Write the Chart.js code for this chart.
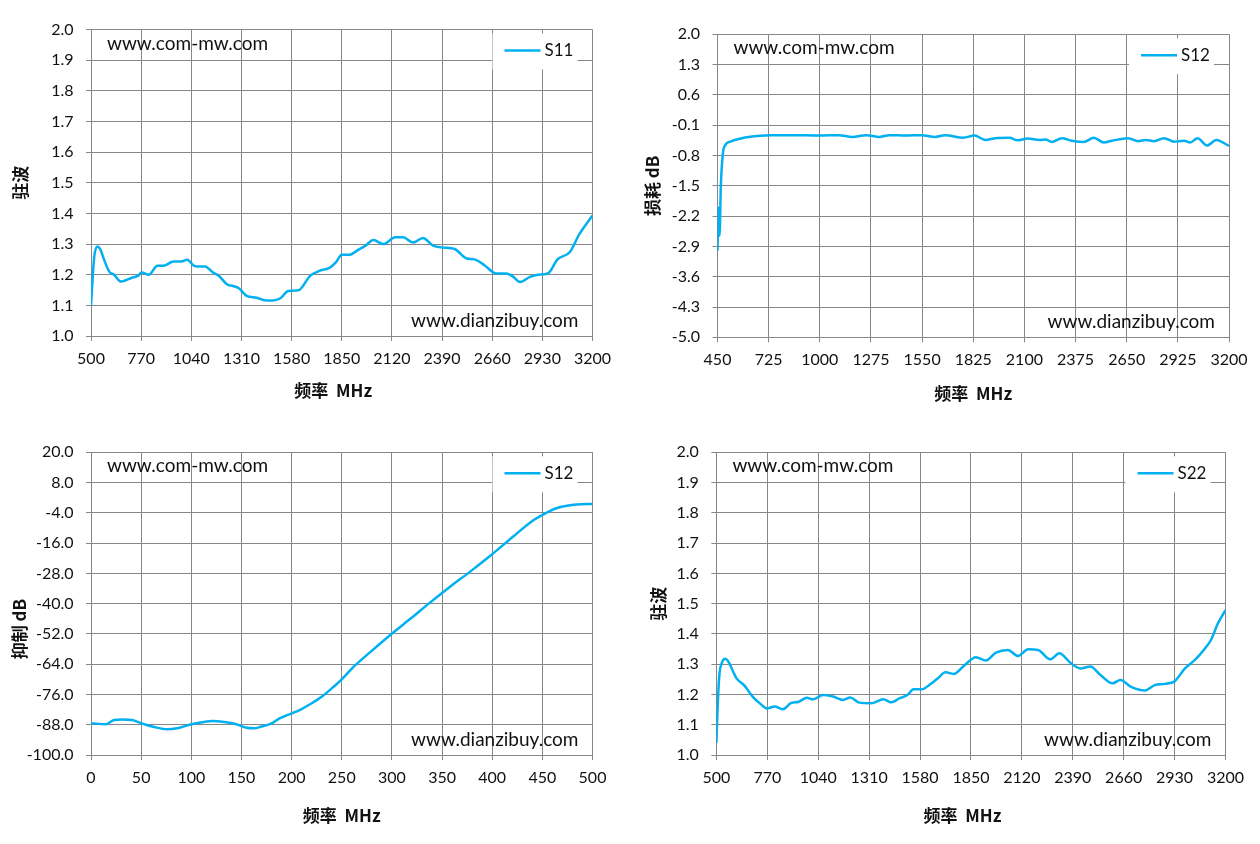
<!DOCTYPE html>
<html>
<head>
<meta charset="utf-8">
<script src="https://cdn.jsdelivr.net/npm/chart.js@4.4.0/dist/chart.umd.min.js"></script>
<style>
  body { margin: 0; background: #fff; }
  #page { position: relative; width: 1260px; height: 844px; overflow: hidden; }
  canvas { position: absolute; }
</style>
</head>
<body>
<div id="page">
  <canvas id="c1" width="630" height="422" style="left:0;top:0"></canvas>
  <canvas id="c2" width="630" height="422" style="left:630px;top:0"></canvas>
  <canvas id="c3" width="630" height="422" style="left:0;top:422px"></canvas>
  <canvas id="c4" width="630" height="422" style="left:630px;top:422px"></canvas>
</div>
<script>
// 数据
const siteTop = 'www.com-mw.com';
const siteBottom = 'www.dianzibuy.com';

// S11 驻波 (500-3200 MHz)
const s11Freq = [500, 517, 534, 549, 570, 598, 624, 660, 688, 720, 752, 773, 811, 858, 890, 944, 986, 1018, 1050, 1072,
  1114, 1157, 1189, 1232, 1264, 1296, 1338, 1392, 1434, 1477, 1520, 1562, 1616, 1680, 1733, 1786, 1818, 1850, 1893, 1936,
  1978, 2021, 2074, 2138, 2181, 2234, 2287, 2341, 2394, 2458, 2522, 2565, 2618, 2682, 2735, 2767, 2810, 2863, 2906, 2959,
  3013, 3077, 3130, 3200];
const s11Vswr = [1.10, 1.256, 1.292, 1.284, 1.25, 1.21, 1.20, 1.178, 1.182, 1.19, 1.196, 1.207, 1.20, 1.229, 1.229, 1.243, 1.243, 1.249, 1.231, 1.227,
  1.227, 1.207, 1.196, 1.169, 1.163, 1.156, 1.131, 1.125, 1.117, 1.116, 1.123, 1.147, 1.149, 1.196, 1.213, 1.223, 1.24, 1.265, 1.265, 1.28,
  1.295, 1.313, 1.30, 1.322, 1.322, 1.305, 1.32, 1.295, 1.289, 1.284, 1.253, 1.25, 1.231, 1.204, 1.204, 1.196, 1.176, 1.193, 1.20, 1.204,
  1.251, 1.273, 1.333, 1.393];

// S12 损耗 (450-3200 MHz)
const lossFreq = [450, 455, 458, 461, 468, 479, 492, 519, 582, 663, 735, 850, 1000, 1100, 1175, 1250, 1320, 1375, 1460, 1545,
  1620, 1674, 1771, 1832, 1890, 1944, 2020, 2063, 2117, 2182, 2214, 2247, 2301, 2355, 2419, 2473, 2527, 2570, 2657, 2711,
  2754, 2797, 2851, 2905, 2959, 2991, 3031, 3082, 3132, 3200];
const lossDb = [-3.0, -2.0, -2.3, -2.65, -1.5, -0.75, -0.56, -0.48, -0.40, -0.35, -0.33, -0.33, -0.34, -0.33, -0.37, -0.33, -0.37, -0.33, -0.34, -0.33,
  -0.37, -0.33, -0.39, -0.34, -0.44, -0.40, -0.39, -0.45, -0.41, -0.44, -0.43, -0.49, -0.40, -0.46, -0.49, -0.39, -0.50, -0.46, -0.40, -0.47,
  -0.44, -0.47, -0.40, -0.48, -0.46, -0.50, -0.40, -0.57, -0.44, -0.58];

// S12 抑制 (0-500 MHz)
const rejFreq = [0, 15, 23, 31, 41, 50, 62, 76, 86, 100, 114, 121, 133, 145, 155, 163, 169, 179, 188, 200,
  208, 220, 230, 240, 250, 263, 279, 299, 319, 338, 358, 378, 399, 421, 439, 453, 464, 476, 488, 500];
const rejDb = [-87.4, -87.8, -86.1, -85.9, -86.1, -87.4, -88.8, -89.8, -89.4, -87.8, -86.8, -86.5, -86.9, -87.8, -89.2, -89.4, -88.8, -87.7, -85.5, -83.5,
  -82.2, -79.5, -76.9, -73.6, -70.0, -64.6, -59.0, -52.2, -45.8, -39.6, -33.3, -27.3, -20.7, -13.4, -7.5, -4.2, -2.2, -1.1, -0.6, -0.5];

// S22 驻波 (500-3200 MHz)
const s22Freq = [500, 506, 515, 528, 547, 564, 585, 607, 649, 692, 735, 767, 809, 852, 895, 937, 980, 1012, 1065, 1118,
  1172, 1210, 1257, 1321, 1385, 1428, 1470, 1513, 1545, 1588, 1641, 1673, 1716, 1758, 1812, 1876, 1929, 1982, 2046, 2100,
  2153, 2206, 2270, 2319, 2377, 2430, 2483, 2537, 2601, 2643, 2697, 2771, 2825, 2878, 2931, 2985, 3038, 3091, 3123, 3160, 3200];
const s22Vswr = [1.04, 1.149, 1.259, 1.303, 1.318, 1.308, 1.281, 1.253, 1.229, 1.193, 1.168, 1.154, 1.16, 1.151, 1.171, 1.176, 1.189, 1.184, 1.198, 1.193,
  1.182, 1.19, 1.173, 1.171, 1.184, 1.174, 1.187, 1.198, 1.217, 1.217, 1.237, 1.253, 1.273, 1.268, 1.294, 1.323, 1.312, 1.338, 1.347, 1.327,
  1.349, 1.347, 1.316, 1.336, 1.305, 1.286, 1.292, 1.264, 1.237, 1.248, 1.226, 1.213, 1.231, 1.235, 1.244, 1.286, 1.314, 1.352, 1.38, 1.435, 1.479];

// ticks
const vswrTicks = [1.0, 1.1, 1.2, 1.3, 1.4, 1.5, 1.6, 1.7, 1.8, 1.9, 2.0];
const lossTicks = [-5.0, -4.3, -3.6, -2.9, -2.2, -1.5, -0.8, -0.1, 0.6, 1.3, 2.0];
const rejTicks = [-100, -88, -76, -64, -52, -40, -28, -16, -4, 8, 20];
const freqTicksA = [500, 770, 1040, 1310, 1580, 1850, 2120, 2390, 2660, 2930, 3200];
const freqTicksB = [450, 725, 1000, 1275, 1550, 1825, 2100, 2375, 2650, 2925, 3200];
const freqTicksC = [0, 50, 100, 150, 200, 250, 300, 350, 400, 450, 500];

const W = 630, H = 422;
const gridColor = '#878787';
const lineColor = '#00B0F0';

// marca d'água + legenda dentro da área do gráfico
const overlayPlugin = {
  id: 'overlay',
  afterDraw(chart, args, opts) {
    const { ctx, chartArea: a } = chart;
    ctx.save();
    ctx.fillStyle = '#111';
    ctx.font = '19px Lato, sans-serif';
    ctx.textBaseline = 'alphabetic';
    ctx.textAlign = 'left';
    ctx.fillText(opts.top, a.left + 16, a.top + 20);
    ctx.textAlign = 'right';
    ctx.fillText(opts.bottom, a.right - 14, a.bottom - 9);

    // legenda
    const bx = a.right - 100, by = a.top + 4;
    ctx.fillStyle = '#fff';
    ctx.fillRect(bx, by, 85, 36);
    ctx.strokeStyle = lineColor;
    ctx.lineWidth = 2.5;
    ctx.beginPath();
    ctx.moveTo(bx + 12, a.top + 21);
    ctx.lineTo(bx + 48, a.top + 21);
    ctx.stroke();
    ctx.fillStyle = '#111';
    ctx.font = '17px Lato, sans-serif';
    ctx.textAlign = 'left';
    ctx.textBaseline = 'middle';
    ctx.fillText(chart.data.datasets[0].label, bx + 52, a.top + 21);
    ctx.restore();
  }
};

function buildChart(id, o) {
  const titleFont = { family: "'Noto Sans CJK SC', sans-serif", size: 17, weight: 'bold' };
  const tickFont = { family: 'Lato, sans-serif', size: 16 };
  const grid = { color: gridColor, lineWidth: 1, tickLength: 5, drawTicks: true };
  const border = { display: true, color: gridColor, width: 1 };
  return new Chart(document.getElementById(id), {
    type: 'line',
    data: {
      datasets: [{
        label: o.label,
        data: o.xs.map((x, i) => ({ x, y: o.ys[i] })),
        borderColor: lineColor,
        borderWidth: 2.5,
        pointRadius: 0,
        cubicInterpolationMode: 'monotone',
        fill: false
      }]
    },
    options: {
      responsive: false,
      animation: false,
      layout: { padding: { top: o.t, right: W - o.r, left: 0, bottom: 0 } },
      plugins: {
        legend: { display: false },
        tooltip: { enabled: false },
        overlay: { top: siteTop, bottom: siteBottom }
      },
      scales: {
        x: {
          type: 'linear',
          min: o.xTicks[0],
          max: o.xTicks[o.xTicks.length - 1],
          afterBuildTicks: s => { s.ticks = o.xTicks.map(v => ({ value: v })); },
          afterFit: s => { s.height = H - o.b; },
          grid, border,
          ticks: { font: tickFont, color: '#111', padding: 8, autoSkip: false, maxRotation: 0, callback: v => String(v) },
          title: { display: true, text: o.xTitle, font: titleFont, color: '#111', padding: { top: 0, bottom: o.xTitlePad } }
        },
        y: {
          type: 'linear',
          min: o.yTicks[0],
          max: o.yTicks[o.yTicks.length - 1],
          afterBuildTicks: s => { s.ticks = o.yTicks.map(v => ({ value: v })); },
          afterFit: s => { s.width = o.l; },
          grid, border,
          ticks: { font: tickFont, color: '#111', padding: 12.5, callback: v => v.toFixed(1) },
          title: { display: true, text: o.yTitle, font: titleFont, color: '#111', padding: { top: o.yTitlePad, bottom: 0 } }
        }
      }
    },
    plugins: [overlayPlugin]
  });
}

buildChart('c1', {
  label: 'S11', xs: s11Freq, ys: s11Vswr, xTicks: freqTicksA, yTicks: vswrTicks,
  xTitle: '频率  MHz\u3000', yTitle: '驻波',
  l: 91, r: 592.5, t: 29.5, b: 336, xTitlePad: 21, yTitlePad: 10.8
});
buildChart('c2', {
  label: 'S12', xs: lossFreq, ys: lossDb, xTicks: freqTicksB, yTicks: lossTicks,
  xTitle: '频率  MHz', yTitle: '损耗 dB',
  l: 87.5, r: 599, t: 34.3, b: 337.3, xTitlePad: 18, yTitlePad: 12.8
});
buildChart('c3', {
  label: 'S12', xs: rejFreq, ys: rejDb, xTicks: freqTicksC, yTicks: rejTicks,
  xTitle: '频率  MHz', yTitle: '抑制 dB\u3000\u3000\u3000',
  l: 91, r: 592.5, t: 30.3, b: 333, xTitlePad: 18.5, yTitlePad: 9.8
});
buildChart('c4', {
  label: 'S22', xs: s22Freq, ys: s22Vswr, xTicks: freqTicksA, yTicks: vswrTicks,
  xTitle: '频率  MHz\u3000', yTitle: '驻波',
  l: 86.4, r: 595.5, t: 30.3, b: 333, xTitlePad: 18.5, yTitlePad: 18.8
});
</script>
</body>
</html>
